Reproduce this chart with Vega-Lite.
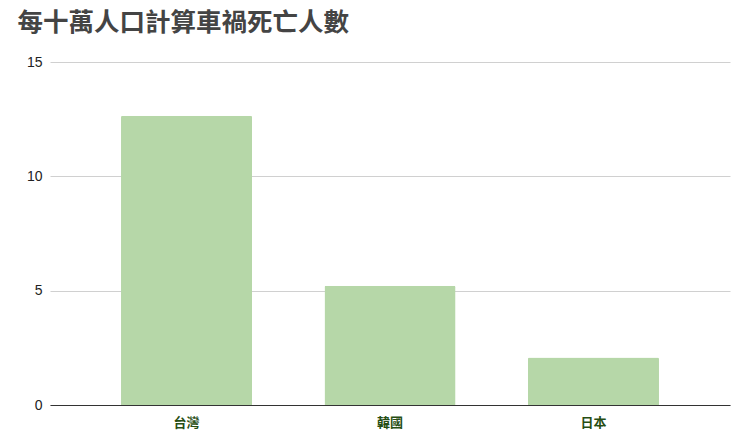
{
  "$schema": "https://vega.github.io/schema/vega-lite/v6.json",
  "autosize": "none",
  "width": 680,
  "height": 343,
  "padding": {"left": 50, "top": 62, "right": 10, "bottom": 31},
  "background": "white",
  "title": {
    "text": "每十萬人口計算車禍死亡人數",
    "font": "Noto Sans CJK TC",
    "fontSize": 25.5,
    "fontWeight": "bold",
    "color": "#444444",
    "anchor": "start",
    "dx": -9,
    "offset": 19
  },
  "data": {
    "values": [
      {"country": "台灣", "deaths": 12.65},
      {"country": "韓國", "deaths": 5.22},
      {"country": "日本", "deaths": 2.08}
    ]
  },
  "mark": {"type": "bar", "color": "#b6d7a8", "cornerRadiusTopLeft": 1.5, "cornerRadiusTopRight": 1.5},
  "encoding": {
    "x": {
      "field": "country",
      "type": "nominal",
      "sort": null,
      "title": null,
      "scale": {"paddingInner": 0.356, "paddingOuter": 0.349},
      "axis": {
        "labelAngle": 0,
        "labelFont": "Noto Sans CJK TC",
        "labelFontSize": 13,
        "labelFontWeight": "bold",
        "labelColor": "#274e13",
        "labelPadding": 11,
        "ticks": false,
        "domainColor": "#333333",
        "domainWidth": 1.2
      }
    },
    "y": {
      "field": "deaths",
      "type": "quantitative",
      "title": null,
      "scale": {"domain": [0, 15]},
      "axis": {
        "values": [0, 5, 10, 15],
        "labelFont": "Liberation Sans",
        "labelFontSize": 14,
        "labelColor": "#222222",
        "labelPadding": 8,
        "ticks": false,
        "domain": false,
        "gridColor": "#d0d0d0",
        "gridWidth": 1
      }
    }
  },
  "config": {"view": {"stroke": null}}
}
